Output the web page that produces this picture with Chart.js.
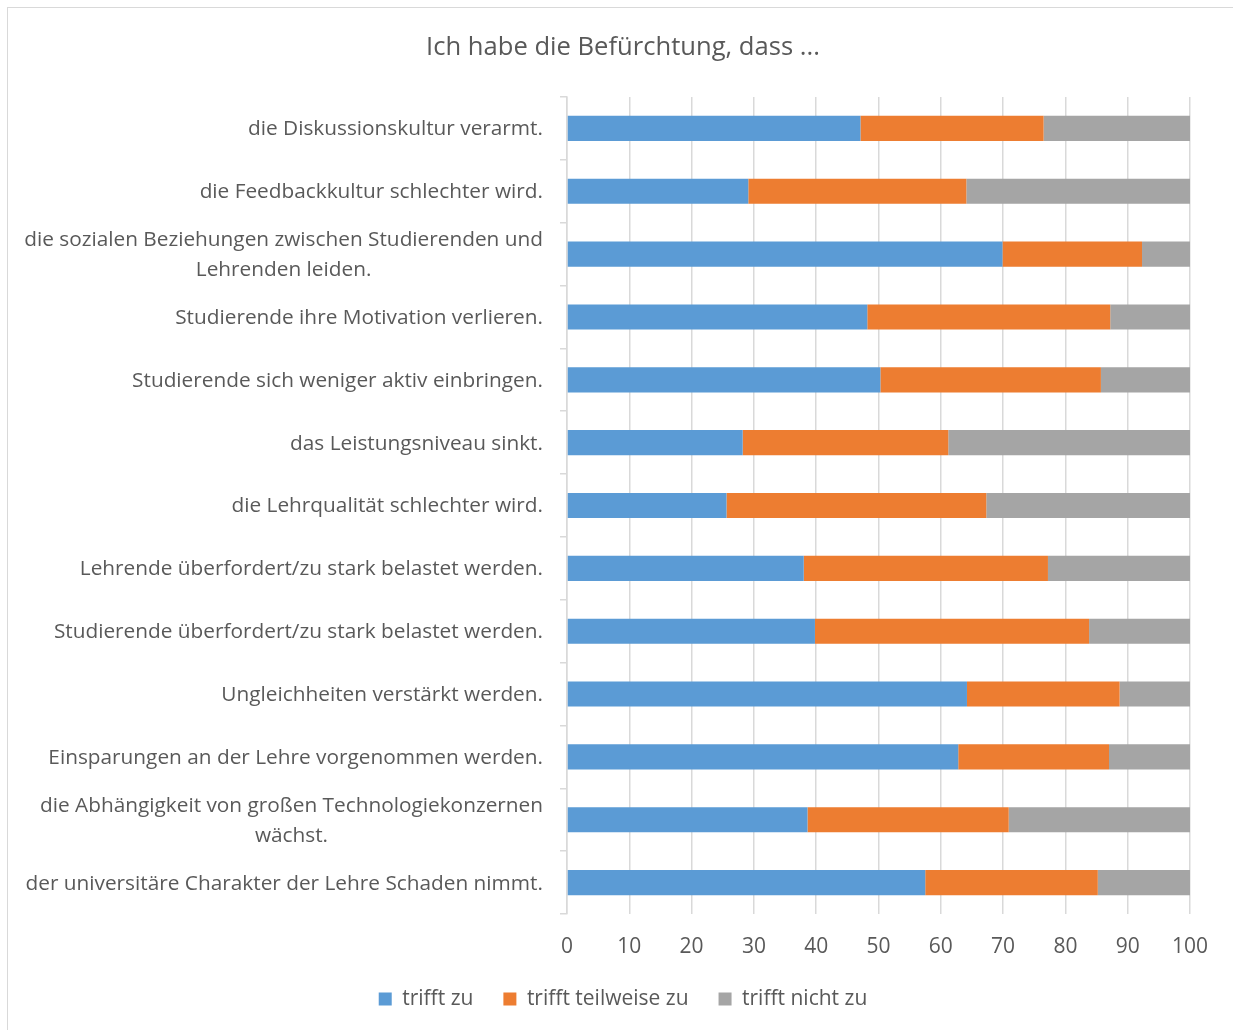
<!DOCTYPE html>
<html lang="de">
<head>
<meta charset="utf-8">
<title>Ich habe die Befürchtung, dass ...</title>
<script src="https://cdn.jsdelivr.net/npm/chart.js@4/dist/chart.umd.min.js"></script>
<style>
    html, body { margin: 0; padding: 0; background: #ffffff; overflow: hidden; }
    #frame {
        position: absolute; left: 7px; top: 7px;
        width: 1300px; height: 1100px;
        border: 1.5px solid #d9d9d9;
    }
    #wrap { position: absolute; left: 0; top: 0; width: 1233px; height: 1030px; }
</style>
</head>
<body>
<div id="frame"></div>
<div id="wrap"><canvas id="fearChart" width="1233" height="1030"></canvas></div>

<script>
// Categories (top to bottom)
const categories = [
    ['die Diskussionskultur verarmt.'],
    ['die Feedbackkultur schlechter wird.'],
    ['die sozialen Beziehungen zwischen Studierenden und', 'Lehrenden leiden.'],
    ['Studierende ihre Motivation verlieren.'],
    ['Studierende sich weniger aktiv einbringen.'],
    ['das Leistungsniveau sinkt.'],
    ['die Lehrqualität schlechter wird.'],
    ['Lehrende überfordert/zu stark belastet werden.'],
    ['Studierende überfordert/zu stark belastet werden.'],
    ['Ungleichheiten verstärkt werden.'],
    ['Einsparungen an der Lehre vorgenommen werden.'],
    ['die Abhängigkeit von großen Technologiekonzernen', 'wächst.'],
    ['der universitäre Charakter der Lehre Schaden nimmt.']
];

// Series values (percent)
const triffZu        = [47.1, 29.1, 69.9, 48.2, 50.3, 28.2, 25.6, 38.0, 39.8, 64.2, 62.8, 38.6, 57.5];
const triffTeilweise = [29.4, 35.0, 22.4, 39.0, 35.4, 33.0, 41.7, 39.2, 44.0, 24.5, 24.2, 32.3, 27.7];
const triffNicht     = [23.5, 35.9, 7.7, 12.8, 14.3, 38.8, 32.7, 22.8, 16.2, 11.3, 13.0, 29.1, 14.8];

const seriesNames = ['trifft zu', 'trifft teilweise zu', 'trifft nicht zu'];
const xTicks = [0, 10, 20, 30, 40, 50, 60, 70, 80, 90, 100];

const FONT = 'Open Sans';
const TEXT = '#595959';
const GRID = '#d9d9d9';

// Draws the category labels: block right-aligned, lines centered to each other
const categoryLabels = {
    id: 'categoryLabels',
    afterDraw(chart) {
        const scale = chart.scales.y;
        const ctx = chart.ctx;
        const lineGap = 30;
        ctx.save();
        ctx.font = `20.8px "${FONT}"`;
        ctx.fillStyle = TEXT;
        ctx.textAlign = 'center';
        ctx.textBaseline = 'middle';
        categories.forEach((lines, i) => {
            const yc = scale.getPixelForTick(i) + 1;
            const widest = Math.max(...lines.map(l => ctx.measureText(l).width));
            const xc = scale.right - 24 - widest / 2;
            const y0 = yc - (lines.length - 1) * lineGap / 2;
            lines.forEach((l, k) => ctx.fillText(l, xc, y0 + k * lineGap));
        });
        ctx.restore();
    }
};

document.addEventListener('DOMContentLoaded', () => {
    const ctx = document.getElementById('fearChart').getContext('2d');

    new Chart(ctx, {
        type: 'bar',
        data: {
            labels: categories,
            datasets: [
                { label: seriesNames[0], data: triffZu, backgroundColor: '#5b9bd5' },
                { label: seriesNames[1], data: triffTeilweise, backgroundColor: '#ed7d31' },
                { label: seriesNames[2], data: triffNicht, backgroundColor: '#a5a5a5' }
            ]
        },
        options: {
            indexAxis: 'y',
            responsive: false,
            animation: false,
            datasets: {
                bar: { categoryPercentage: 1.0, barPercentage: 0.4, borderWidth: 0 }
            },
            layout: { padding: { left: 56, right: 43, top: 0, bottom: 10.5 } },
            plugins: {
                title: {
                    display: true,
                    text: 'Ich habe die Befürchtung, dass ...',
                    color: TEXT,
                    font: { family: FONT, size: 25.6, weight: 'normal' },
                    padding: { top: 32.4, bottom: 33.9 }
                },
                legend: {
                    position: 'bottom',
                    labels: {
                        color: TEXT,
                        font: { family: FONT, size: 21 },
                        boxWidth: 13,
                        boxHeight: 13,
                        padding: 30
                    }
                },
                tooltip: { enabled: false }
            },
            scales: {
                x: {
                    stacked: true,
                    min: 0,
                    max: 100,
                    afterBuildTicks: (scale) => {
                        scale.ticks = xTicks.map(v => ({ value: v }));
                    },
                    afterFit: (scale) => { scale.height = 44.5; },
                    border: { display: false },
                    grid: { color: GRID, lineWidth: 1.5, drawTicks: false },
                    ticks: {
                        color: TEXT,
                        font: { family: FONT, size: 21 },
                        padding: 20.4,
                        maxRotation: 0
                    }
                },
                y: {
                    stacked: true,
                    afterFit: (scale) => { scale.width = 511; },
                    border: { display: true, color: GRID, width: 1.5 },
                    grid: {
                        offset: true,
                        drawOnChartArea: false,
                        color: GRID,
                        lineWidth: 1.5,
                        tickLength: 7
                    },
                    ticks: { display: false }
                }
            }
        },
        plugins: [categoryLabels]
    });
});
</script>
</body>
</html>
